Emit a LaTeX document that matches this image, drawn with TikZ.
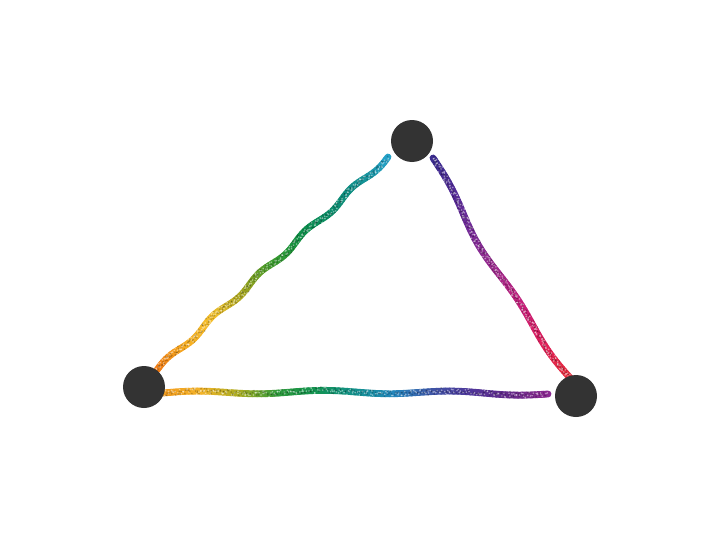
\documentclass[tikz,border=0pt]{standalone}
\definecolor{nodegray}{HTML}{333333}
% edge A: left -> top
\definecolor{A0}{HTML}{F07A14}
\definecolor{A1}{HTML}{F6AE22}
\definecolor{A2}{HTML}{F4C02E}
\definecolor{A3}{HTML}{A0A41E}
\definecolor{A4}{HTML}{3E9C2E}
\definecolor{A5}{HTML}{0E9046}
\definecolor{A6}{HTML}{0C8C6A}
\definecolor{A7}{HTML}{12908E}
\definecolor{A8}{HTML}{26A2CC}
% edge B: left -> right (bottom)
\definecolor{B0}{HTML}{F29A1C}
\definecolor{B1}{HTML}{F3B42A}
\definecolor{B2}{HTML}{A8AC22}
\definecolor{B3}{HTML}{2E9A3C}
\definecolor{B4}{HTML}{129352}
\definecolor{B5}{HTML}{14918E}
\definecolor{B6}{HTML}{2386BC}
\definecolor{B7}{HTML}{3F55A6}
\definecolor{B8}{HTML}{50369A}
\definecolor{B9}{HTML}{642A8A}
\definecolor{B10}{HTML}{8E2A92}
% edge C: top -> right
\definecolor{C0}{HTML}{3C2E90}
\definecolor{C1}{HTML}{552C98}
\definecolor{C2}{HTML}{7A2C98}
\definecolor{C3}{HTML}{A0288C}
\definecolor{C4}{HTML}{C8207A}
\definecolor{C5}{HTML}{E0205A}
\definecolor{C6}{HTML}{E8303A}
\tikzset{
  vertex/.style={circle,fill=nodegray,draw=none,minimum size=42pt,inner sep=0pt},
  glitterseg/.style={line width=6.8pt,line cap=round},
}
% #1 start coord, #2 end coord, #3 colour prefix, #4 number of stops,
% #5 wave amplitude, #6 number of waves, #7 bow amplitude
\newcommand\rainbowedge[7]{%
  \path (#1); \pgfgetlastxy{\ax}{\ay}%
  \path (#2); \pgfgetlastxy{\bx}{\by}%
  \pgfmathsetmacro\edx{\bx-\ax}%
  \pgfmathsetmacro\edy{\by-\ay}%
  \pgfmathsetmacro\elen{veclen(\edx,\edy)}%
  \pgfmathsetmacro\enx{-\edy/\elen}%
  \pgfmathsetmacro\eny{\edx/\elen}%
  \foreach \i in {0,...,89}{%
    \pgfmathsetmacro\ta{\i/90}%
    \pgfmathsetmacro\tb{(\i+1)/90}%
    \pgfmathsetmacro\oa{#5*sin(\ta*#6*360)+#7*sin(\ta*180)}%
    \pgfmathsetmacro\ob{#5*sin(\tb*#6*360)+#7*sin(\tb*180)}%
    \pgfmathsetmacro\xa{\ax+\ta*\edx+\oa*\enx}%
    \pgfmathsetmacro\ya{\ay+\ta*\edy+\oa*\eny}%
    \pgfmathsetmacro\xb{\ax+\tb*\edx+\ob*\enx}%
    \pgfmathsetmacro\yb{\ay+\tb*\edy+\ob*\eny}%
    \pgfmathsetmacro\s{\ta*(#4-1)}%
    \pgfmathtruncatemacro\k{floor(\s)}%
    \pgfmathtruncatemacro\kk{\k+1}%
    \pgfmathtruncatemacro\f{100-100*(\s-\k)}%
    \draw[glitterseg,color=#3\k!\f!#3\kk] (\xa pt,\ya pt) -- (\xb pt,\yb pt);
  }%
  \foreach \i in {0,...,239}{%
    \pgfmathsetmacro\ta{\i/240}%
    \pgfmathsetmacro\oa{#5*sin(\ta*#6*360)+#7*sin(\ta*180)+2.3*rand}%
    \pgfmathsetmacro\xa{\ax+\ta*\edx+\oa*\enx+1.2*rand}%
    \pgfmathsetmacro\ya{\ay+\ta*\edy+\oa*\eny+1.2*rand}%
    \fill[white,opacity=0.45] (\xa pt,\ya pt) circle (0.9pt);
    \pgfmathsetmacro\oa{#5*sin(\ta*#6*360)+#7*sin(\ta*180)+2.3*rand}%
    \pgfmathsetmacro\xa{\ax+\ta*\edx+\oa*\enx+1.2*rand}%
    \pgfmathsetmacro\ya{\ay+\ta*\edy+\oa*\eny+1.2*rand}%
    \fill[black,opacity=0.22] (\xa pt,\ya pt) circle (0.9pt);
  }%
}
\begin{document}
\begin{tikzpicture}[x=1pt,y=-1pt]
\pgfmathsetseed{11}
\useasboundingbox (0,0) rectangle (718,538);
\fill[white] (0,0) rectangle (718,538);
\coordinate (aS) at (157,370);
\coordinate (aE) at (388,157);
\coordinate (bS) at (163,393);
\coordinate (bE) at (548,394);
\coordinate (cS) at (433,158);
\coordinate (cE) at (572,380);
\rainbowedge{aS}{aE}{A}{9}{2}{5}{0}
\rainbowedge{bS}{bE}{B}{11}{1.6}{3}{1.5}
\rainbowedge{cS}{cE}{C}{7}{2.2}{2}{-6}
\node[vertex] (top) at (412,141) {};
\node[vertex] (left) at (144,387) {};
\node[vertex] (right) at (576,396) {};
\end{tikzpicture}
\end{document}
